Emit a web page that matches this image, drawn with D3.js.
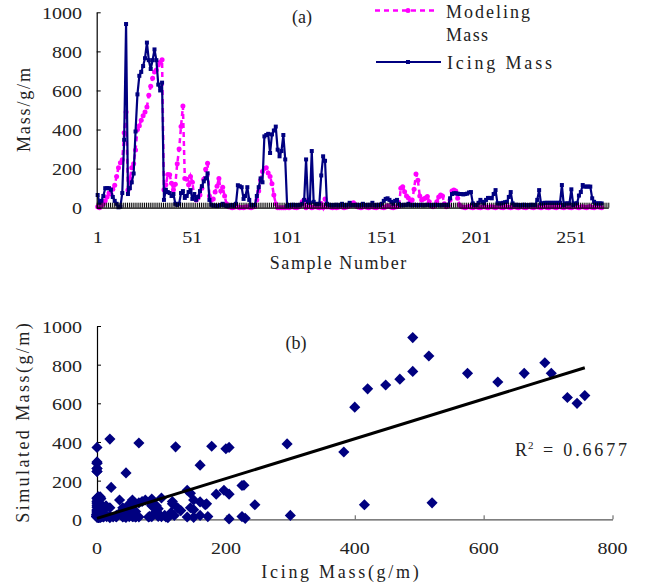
<!DOCTYPE html>
<html><head><meta charset="utf-8">
<script src="https://cdn.jsdelivr.net/npm/d3@7"></script>
<style>body{margin:0;background:#fff}svg{display:block}</style>
</head><body>
<svg id="c" width="646" height="586"></svg>
<script>
// ---------- data ----------
const icingMass = [
 65,25,35,60,100,100,100,92,55,35,
 20,2,5,75,348,940,70,100,130,175,
 390,580,675,695,725,765,845,755,710,755,
 810,755,630,600,640,40,92,80,75,60,
 70,20,14,20,75,85,50,60,80,90,
 45,70,40,55,85,110,135,150,176,40,
 15,10,12,8,10,14,20,12,8,10,
 12,14,10,20,115,110,105,45,60,105,
 40,14,12,14,60,105,150,130,365,372,
 378,280,375,395,415,297,263,290,372,247,
 10,14,12,15,14,12,14,15,20,40,
 247,30,25,290,30,20,18,20,165,263,
 240,20,15,14,12,14,15,12,14,20,
 14,12,15,25,14,12,14,15,12,14,
 20,14,12,15,14,25,14,12,15,14,
 20,35,45,48,40,30,20,35,40,20,
 14,12,15,14,20,14,12,15,14,12,
 14,15,12,14,15,14,12,14,15,14,
 14,12,14,15,14,14,48,70,74,74,
 72,70,70,68,70,72,78,80,22,14,
 14,25,40,30,22,40,50,50,48,70,
 90,22,22,22,25,28,30,55,80,22,
 14,15,14,12,14,15,14,12,14,15,
 14,14,40,90,22,22,25,25,25,25,
 25,25,25,25,25,116,14,22,22,22,
 94,14,22,22,62,80,116,108,108,108,
 108,48,30,22,22,22,22];
const modelingMass = [
 5,0,10,20,35,55,75,70,95,115,
 160,205,230,245,383,490,90,150,205,225,
 295,400,420,448,470,490,515,575,622,663,
 695,705,730,745,757,92,117,170,168,125,
 92,120,225,300,415,520,150,145,117,160,
 130,55,40,50,65,100,145,197,228,60,
 40,45,80,110,150,85,105,60,20,5,
 3,0,2,6,3,0,1,0,4,5,
 2,0,3,6,40,85,140,185,200,205,
 178,160,122,65,20,0,0,0,0,0,
 2,0,3,5,1,0,4,10,30,40,
 0,35,5,0,3,6,2,0,22,0,
 45,3,5,2,0,4,0,2,6,3,
 0,2,5,10,20,25,15,5,2,0,
 3,6,2,0,4,5,1,0,3,7,
 2,0,4,10,6,2,0,3,5,8,
 100,107,82,60,50,30,40,95,172,140,
 60,40,44,50,57,30,10,5,10,30,
 55,65,60,20,5,10,40,85,90,85,
 48,14,5,2,0,3,6,2,0,4,
 5,1,0,3,7,2,0,4,5,2,
 0,3,6,1,0,4,5,2,0,3,
 7,2,0,3,5,1,0,4,6,2,
 0,3,5,2,0,4,6,1,0,3,
 5,2,0,4,6,2,0,3,5,1,
 0,4,6,2,0,3,5,2,0,4,
 6,1,0,3,5,2,0];
const categoryCount = 270;
const sampleTickLabels = [1, 51, 101, 151, 201, 251];
const massTicks = [0, 200, 400, 600, 800, 1000];
const scatterXTicks = [0, 200, 400, 600, 800];
const seriesNames = ["Modeling", "Mass", "Icing Mass"];
const trendSlope = 1.029;
const trendIntercept = 5;
const rSquaredValue = "0.6677";
const titleA = "(a)", titleB = "(b)";
const yTitleA = "Mass/g/m", xTitleA = "Sample Number";
const yTitleB = "Simulated Mass(g/m)", xTitleB = "Icing Mass(g/m)";

// ---------- drawing ----------
const NAVY = "#000080", PINK = "#FF00FF", TXT = "#222";
const serif = "'Liberation Serif','Times New Roman',serif";
const PITCH = 10.5;
const svg = d3.select("#c");

function numLabels(g, vals, xf, yf, anchor) {
  g.selectAll(null).data(vals).join("text")
    .attr("x", xf).attr("y", yf)
    .attr("text-anchor", anchor)
    .attr("font-family", serif).attr("font-size", 17).attr("fill", TXT)
    .attr("textLength", d => String(d).length * 10)
    .attr("lengthAdjust", "spacingAndGlyphs")
    .text(d => d);
}
function label(g, str, x, y, anchor, transform, size, pitch) {
  const t = g.append("text").attr("x", x).attr("y", y)
    .attr("text-anchor", anchor || "start")
    .attr("font-family", serif).attr("font-size", size || 18).attr("fill", TXT)
    .text(str);
  if (pitch !== 0) t.attr("textLength", str.length * (pitch || PITCH)).attr("lengthAdjust", "spacing");
  if (transform) t.attr("transform", transform);
  return t;
}
function styleAxis(sel, color) {
  sel.select(".domain").attr("stroke", color).attr("stroke-width", 1.2);
  sel.selectAll(".tick line").attr("stroke", color).attr("stroke-width", 1);
  sel.selectAll(".tick text").remove();
}

// ===== Chart (a) =====
const xA = d3.scaleLinear().domain([0.5, categoryCount + 0.5]).range([96.7, 608.3]);
const yA = d3.scaleLinear().domain([0, 1000]).range([207.7, 12.3]);
const gA = svg.append("g");

const lineA = d3.line().x((d, i) => xA(i + 1)).y(d => yA(d));
gA.append("path").datum(modelingMass).attr("d", lineA)
  .attr("fill", "none").attr("stroke", PINK).attr("stroke-width", 2.5)
  .attr("stroke-dasharray", "5,4");
gA.selectAll(null).data(modelingMass).join("circle")
  .attr("cx", (d, i) => xA(i + 1)).attr("cy", d => yA(d)).attr("r", 2.5).attr("fill", PINK);
gA.append("path").datum(icingMass).attr("d", lineA)
  .attr("fill", "none").attr("stroke", NAVY).attr("stroke-width", 2.2)
  .attr("stroke-linejoin", "round");
gA.selectAll(null).data(icingMass).join("rect")
  .attr("x", (d, i) => xA(i + 1) - 2).attr("y", d => yA(d) - 2)
  .attr("width", 4).attr("height", 4).attr("fill", NAVY);

const yAxA = gA.append("g").attr("transform", `translate(${xA.range()[0]},0)`)
  .call(d3.axisLeft(yA).tickValues(massTicks).tickSize(-4).tickSizeOuter(0));
styleAxis(yAxA, "#000");
const xAxA = gA.append("g").attr("transform", `translate(0,${yA(0)})`)
  .call(d3.axisBottom(xA).tickValues(d3.range(0, categoryCount + 1).map(k => k + 0.5))
    .tickSize(-5).tickSizeOuter(0));
styleAxis(xAxA, "#000");
numLabels(gA, massTicks, 82, d => yA(d) + 6.5, "end");
numLabels(gA, sampleTickLabels, d => xA(d), 242.5, "middle");

label(gA, titleA, 302, 22.5, "middle", null, 18, 0);
label(gA, xTitleA, 338, 269, "middle");
label(gA, yTitleA, 0, 0, "middle", "translate(30,110) rotate(-90)");

// legend
const leg = gA.append("g");
leg.append("line").attr("x1", 375).attr("x2", 434).attr("y1", 10.5).attr("y2", 10.5)
  .attr("stroke", PINK).attr("stroke-width", 2.5).attr("stroke-dasharray", "5,4");
leg.append("circle").attr("cx", 408).attr("cy", 10.5).attr("r", 2.5).attr("fill", PINK);
label(leg, seriesNames[0], 446, 17.5);
label(leg, seriesNames[1], 446, 41);
leg.append("line").attr("x1", 376).attr("x2", 441).attr("y1", 62).attr("y2", 62)
  .attr("stroke", NAVY).attr("stroke-width", 2.2);
leg.append("rect").attr("x", 406).attr("y", 60).attr("width", 4).attr("height", 4).attr("fill", NAVY);
label(leg, seriesNames[2], 447, 68.5);

// ===== Chart (b) =====
const xB = d3.scaleLinear().domain([0, 800]).range([97, 612.5]);
const yB = d3.scaleLinear().domain([0, 1000]).range([519.3, 326]);
const gB = svg.append("g");

const yAxB = gB.append("g").attr("transform", `translate(${xB(0)},0)`)
  .call(d3.axisLeft(yB).tickValues(massTicks).tickSize(-4).tickSizeOuter(0));
styleAxis(yAxB, "#000");
const xAxB = gB.append("g").attr("transform", `translate(0,${yB(0)})`)
  .call(d3.axisBottom(xB).tickValues(scatterXTicks).tickSize(-4).tickSizeOuter(0));
styleAxis(xAxB, "#555");
numLabels(gB, massTicks, 82, d => yB(d) + 7, "end");
numLabels(gB, scatterXTicks, d => xB(d), 554, "middle");

const pairs = modelingMass.map((m, i) => [m, icingMass[i]]);
const diamond = d3.symbol().type(d3.symbolSquare).size(62);
gB.selectAll(null).data(pairs).join("path")
  .attr("d", diamond)
  .attr("transform", d => `translate(${xB(d[0])},${yB(d[1])}) rotate(45)`)
  .attr("fill", NAVY);

const xMin = d3.min(modelingMass), xMax = d3.max(modelingMass);
gB.append("line")
  .attr("x1", xB(xMin)).attr("y1", yB(trendSlope * xMin + trendIntercept))
  .attr("x2", xB(xMax)).attr("y2", yB(trendSlope * xMax + trendIntercept))
  .attr("stroke", "#000").attr("stroke-width", 3);

label(gB, titleB, 296, 348.5, "middle", null, 18, 0);
gB.append("text").attr("x", 515).attr("y", 456).attr("font-family", serif)
  .attr("font-size", 18).attr("fill", TXT).text("R");
gB.append("text").attr("x", 528).attr("y", 449).attr("font-family", serif)
  .attr("font-size", 11).attr("fill", TXT).text("2");
label(gB, "= " + rSquaredValue, 543, 456);
label(gB, xTitleB, 340, 578, "middle");
label(gB, yTitleB, 0, 0, "middle", "translate(29,423) rotate(-90)");
</script>
</body></html>
